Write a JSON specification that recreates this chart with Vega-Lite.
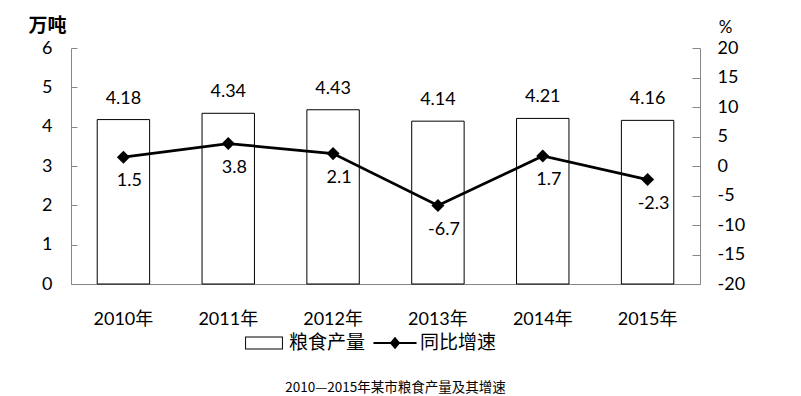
{
  "$schema": "https://vega.github.io/schema/vega-lite/v6.json",
  "width": 629,
  "height": 236,
  "autosize": "none",
  "padding": {"left": 71, "top": 48, "right": 101, "bottom": 112},
  "background": "white",
  "config": {
    "view": {"stroke": null},
    "font": "Lato, Noto Sans CJK SC",
    "locale": {"number": {"decimal": ".", "thousands": ",", "grouping": [3], "currency": ["", ""], "minus": "-"}},
    "axis": {"grid": false, "domainColor": "#868686", "tickColor": "#868686", "labelColor": "black", "labelFont": "Lato, Noto Sans CJK SC", "labelFontSize": 18}
  },
  "title": {"text": "2010—2015年某市粮食产量及其增速", "orient": "bottom", "anchor": "middle", "font": "Noto Sans CJK SC", "fontSize": 13.5, "fontWeight": "normal", "color": "black", "offset": 28, "dx": 10},
  "datasets": {
    "main": [
      {"year": "2010年", "output": 4.18, "growth": 1.5},
      {"year": "2011年", "output": 4.34, "growth": 3.8},
      {"year": "2012年", "output": 4.43, "growth": 2.1},
      {"year": "2013年", "output": 4.14, "growth": -6.7},
      {"year": "2014年", "output": 4.21, "growth": 1.7},
      {"year": "2015年", "output": 4.16, "growth": -2.3}
    ],
    "legend": [{"series": "粮食产量"}, {"series": "同比增速"}]
  },
  "layer": [
    {
      "data": {"name": "main"},
      "encoding": {
        "x": {"field": "year", "type": "nominal", "sort": null, "scale": {"paddingInner": 0.5, "paddingOuter": 0.25}, "axis": {"title": null, "labelAngle": 0, "ticks": false, "labelPadding": 26}},
        "y": {"field": "output", "type": "quantitative", "scale": {"domain": [0, 6], "nice": false}, "axis": {"values": [0, 1, 2, 3, 4, 5, 6], "tickSize": -6, "labelPadding": 25, "title": "万吨", "titleAngle": 0, "titleX": -24, "titleY": -23, "titleAlign": "center", "titleBaseline": "middle", "titleFont": "Noto Sans CJK SC", "titleFontSize": 19, "titleFontWeight": "bold"}}
      },
      "layer": [
        {"mark": {"type": "bar", "fill": "white", "stroke": "black", "strokeWidth": 1}},
        {"mark": {"type": "text", "fontSize": 18, "baseline": "middle", "dy": -21}, "encoding": {"text": {"field": "output", "type": "quantitative", "format": ".2f"}}}
      ]
    },
    {
      "data": {"name": "main"},
      "encoding": {
        "x": {"field": "year", "type": "nominal", "sort": null},
        "y": {"field": "growth", "type": "quantitative", "scale": {"domain": [-20, 20], "nice": false}, "axis": {"orient": "right", "values": [-20, -15, -10, -5, 0, 5, 10, 15, 20], "tickSize": -8, "labelPadding": 25, "title": "%", "titleAngle": 0, "titleX": 25, "titleY": -21, "titleAlign": "center", "titleBaseline": "middle", "titleFontSize": 17, "titleFontWeight": "normal"}}
      },
      "layer": [
        {"mark": {"type": "line", "color": "black", "strokeWidth": 2.75}},
        {"mark": {"type": "point", "shape": "diamond", "filled": true, "color": "black", "size": 170, "opacity": 1}},
        {"mark": {"type": "text", "fontSize": 18, "baseline": "middle", "dy": 24, "dx": 6}, "encoding": {"text": {"field": "growth", "type": "quantitative", "format": ".1f"}}}
      ]
    },
    {
      "data": {"name": "legend"},
      "mark": {"type": "point", "filled": true, "color": "black", "opacity": 0},
      "encoding": {
        "shape": {"field": "series", "type": "nominal", "sort": null,
          "scale": {"domain": ["粮食产量", "同比增速"], "range": ["M-0.86,-0.3H0.86V0.3H-0.86Z M-0.815,-0.255V0.255H0.815V-0.255Z", "M-0.98,-0.05H0.98V0.05H-0.98Z M0,-0.28L0.24,0L0,0.28L-0.24,0Z"]},
          "legend": {"title": null, "orient": "none", "direction": "horizontal", "legendX": 171, "legendY": 273, "symbolSize": 1936, "symbolOpacity": 1, "symbolFillColor": "black", "symbolStrokeWidth": 0, "labelFont": "Noto Sans CJK SC", "labelFontSize": 19, "labelColor": "black", "labelOffset": 3, "columnPadding": 7, "labelLimit": 200}
        }
      }
    }
  ],
  "resolve": {"scale": {"y": "independent"}}
}
